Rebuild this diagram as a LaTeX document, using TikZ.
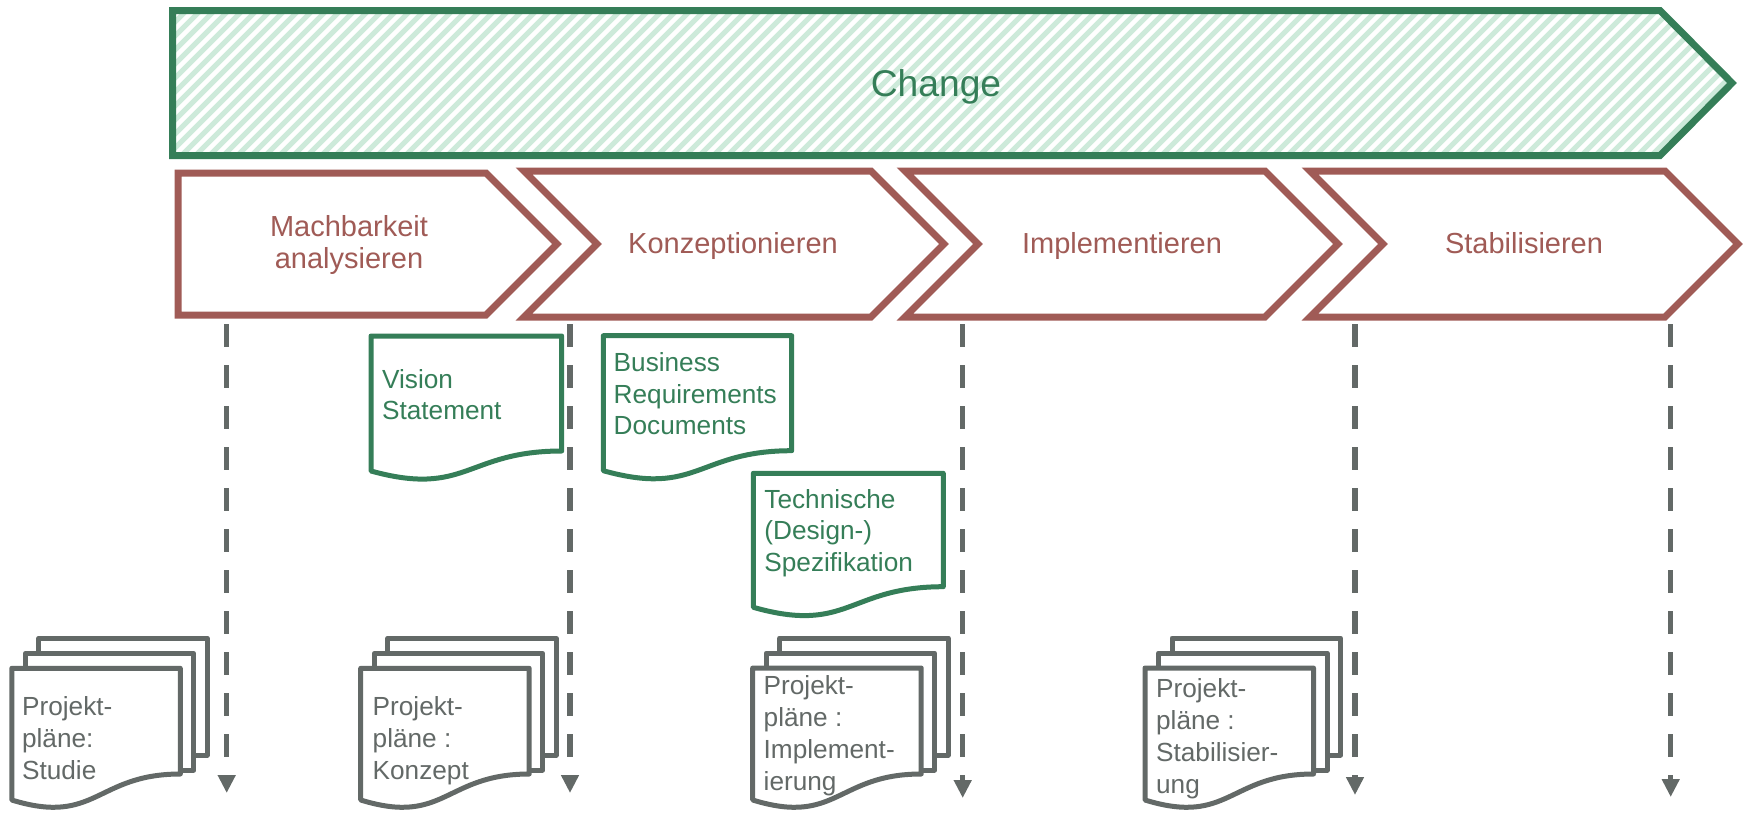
\documentclass[tikz,border=0pt]{standalone}
\usepackage{fontspec}
\setmainfont{Liberation Sans}
\usetikzlibrary{arrows.meta}
\definecolor{cgreen}{RGB}{53,126,88}
\definecolor{cred}{RGB}{160,91,86}
\definecolor{cgray}{RGB}{99,105,103}
\definecolor{chatch}{RGB}{205,234,218}
\newcommand{\lineset}[2]{\begin{tabular}[t]{@{}#1@{}}#2\end{tabular}}
% wave document: style, L, T, R, yR, yL, control y
\newcommand{\wavedoc}[7]{%
  \draw[#1] (#2,#3) -- (#4,#3) -- (#4,#5)
    .. controls ({(#2+#4)/2},#5) and ({(#2+#4)/2},#7) .. (#2,#6) -- cycle;}
% stack of project plans: L, T
\newcommand{\planstack}[2]{%
  \draw[pdoc] ({#1+27},{#2-15}) -- ({#1+27},{#2-30}) -- ({#1+195.5},{#2-30}) -- ({#1+195.5},755) -- ({#1+182},755);
  \draw[pdoc] ({#1+13.5},{#2}) -- ({#1+13.5},{#2-15}) -- ({#1+182},{#2-15}) -- ({#1+182},770) -- ({#1+168.5},770);
  \wavedoc{pdoc}{#1}{#2}{#1+168.5}{774}{800}{826}}
\begin{document}
\begin{tikzpicture}[x=0.5pt,y=-0.5pt,
  banner/.style={draw=cgreen,line width=3.5pt},
  phase/.style={draw=cred,line width=3.5pt,fill=white},
  gdoc/.style={draw=cgreen,line width=2.5pt,fill=white,line join=round},
  pdoc/.style={draw=cgray,line width=2.5pt,fill=white,line join=round},
  phaselabel/.style={text=cred,inner sep=0pt,anchor=base,font=\fontsize{14.5}{15.8}\selectfont},
  gtext/.style={text=cgreen,inner sep=0pt,anchor=base west,font=\fontsize{13.1}{15.8}\selectfont},
  ptext/.style={text=cgray,inner sep=0pt,anchor=base west,font=\fontsize{13.1}{16}\selectfont},
  milestone/.style={draw=cgray,line width=2.7pt,dash pattern=on 11.5pt off 9pt,-{Triangle[width=8.5pt,length=9pt]}},
]
\useasboundingbox (0,0) rectangle (1744,814);

% Change banner
\begin{scope}
  \clip (172.5,10.5) -- (1660,10.5) -- (1732,83) -- (1660,155.5) -- (172.5,155.5) -- cycle;
  \foreach \i in {0,...,125} {\draw[chatch,line width=2.5pt] ({27.5+\i*14},155.5) -- ++(145,-145);}
\end{scope}
\draw[banner] (172.5,10.5) -- (1660,10.5) -- (1732,83) -- (1660,155.5) -- (172.5,155.5) -- cycle;
\node[text=cgreen,inner sep=0pt,anchor=base,font=\fontsize{18.6}{20}\selectfont] (change) at (936,96) {Change};

% phases
\draw[phase] (178,173) -- (486,173) -- (557,244) -- (486,315) -- (178,315) -- cycle;
\draw[phase] (524,171) -- (871,171) -- (944,244) -- (871,317) -- (524,317) -- (597,244) -- cycle;
\draw[phase] (905,171) -- (1265,171) -- (1338,244) -- (1265,317) -- (905,317) -- (978,244) -- cycle;
\draw[phase] (1310,171) -- (1665,171) -- (1738,244) -- (1665,317) -- (1310,317) -- (1383,244) -- cycle;
\node[phaselabel] (p1) at (349,236.7) {\lineset{c}{Machbarkeit\\analysieren}};
\node[phaselabel] (p2) at (733,253.3) {Konzeptionieren};
\node[phaselabel] (p3) at (1122,253.3) {Implementieren};
\node[phaselabel] (p4) at (1524,253.3) {Stabilisieren};

% milestones
\coordinate (m1s) at (226.7,324);  \coordinate (m1e) at (226.7,793);
\coordinate (m2s) at (570,324);    \coordinate (m2e) at (570,793);
\coordinate (m3s) at (962.7,324);  \coordinate (m3e) at (962.7,798);
\coordinate (m4s) at (1355,324);   \coordinate (m4e) at (1355,795);
\coordinate (m5s) at (1670.7,324); \coordinate (m5e) at (1670.7,797);
\draw[milestone] (m1s) -- (m1e);
\draw[milestone] (m2s) -- (m2e);
\draw[milestone] (m3s) -- (m3e);
\draw[milestone] (m4s) -- (m4e);
\draw[milestone] (m5s) -- (m5e);

% green documents
\wavedoc{gdoc}{371}{336}{561.7}{451}{471}{497.3}
\wavedoc{gdoc}{603.3}{335.7}{791.7}{450.7}{470.7}{497}
\wavedoc{gdoc}{753.3}{473.3}{943.3}{586.7}{607.3}{634.3}
\node[gtext] (d1) at (381.7,388) {\lineset{l}{Vision\\Statement}};
\node[gtext] (d2) at (613.3,371.7) {\lineset{l}{Business\\Requirements\\Documents}};
\node[gtext] (d3) at (764,508.3) {\lineset{l}{Technische\\(Design-)\\Spezifikation}};

% project plan stacks
\planstack{11.8}{668.3}
\planstack{360.7}{668.3}
\planstack{752.7}{668}
\planstack{1145}{668}
\node[ptext] (s1) at (21.7,715) {\lineset{l}{Projekt-\\pläne:\\Studie}};
\node[ptext] (s2) at (372.3,715) {\lineset{l}{Projekt-\\pläne :\\Konzept}};
\node[ptext] (s3) at (763.3,694) {\lineset{l}{Projekt-\\pläne :\\Implement-\\ierung}};
\node[ptext] (s4) at (1155.7,697) {\lineset{l}{Projekt-\\pläne :\\Stabilisier-\\ung}};
\end{tikzpicture}
\end{document}
